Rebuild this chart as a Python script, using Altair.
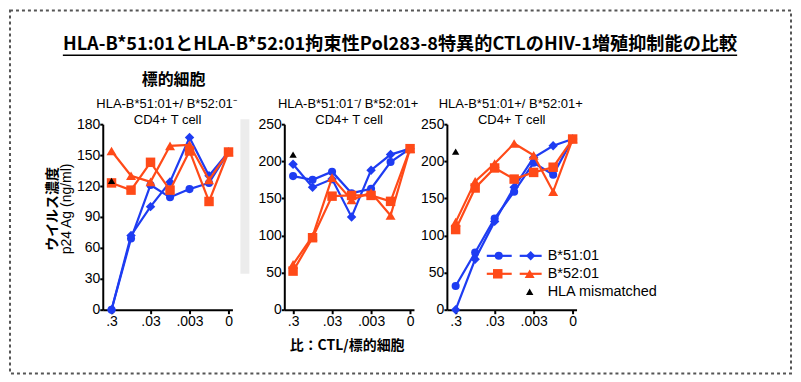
import altair as alt
import pandas as pd

# ---------------- data ----------------
ratio_labels = [".3", ".1", ".03", ".01", ".003", ".001", "0"]
labeled_positions = [0, 2, 4, 6]

series_names = ["B*51:01 (circle)", "B*51:01 (diamond)", "B*52:01 (square)", "B*52:01 (triangle)"]

# panel 1: HLA-B*51:01+/B*52:01- target cells
p1_b51_circle = [0, 69, 121, 109, 117, 123, 153]
p1_b51_diamond = [0, 72, 100, 124, 167, 130, 153]
p1_b52_square = [123, 116, 143, 116, 154, 105, 153]
p1_b52_triangle = [154, 130, 124, 159, 160, 126, 153]
p1_mismatch = 125
p1_yticks = [0, 30, 60, 90, 120, 150, 180]

# panel 2: HLA-B*51:01-/B*52:01+ target cells
p2_b51_circle = [180, 175, 186, 157, 163, 199, 217]
p2_b51_diamond = [196, 165, 176, 125, 188, 209, 217]
p2_b52_square = [52, 97, 153, 154, 154, 146, 217]
p2_b52_triangle = [61, 99, 178, 148, 158, 127, 217]
p2_mismatch = 209
p2_yticks = [0, 50, 100, 150, 200, 250]

# panel 3: HLA-B*51:01+/B*52:01+ target cells
p3_b51_circle = [32, 77, 123, 159, 198, 182, 230]
p3_b51_diamond = [0, 68, 119, 165, 205, 221, 230]
p3_b52_square = [108, 164, 191, 176, 185, 192, 230]
p3_b52_triangle = [118, 173, 197, 224, 208, 159, 230]
p3_mismatch = 213
p3_yticks = [0, 50, 100, 150, 200, 250]

title_text = "HLA-B*51:01とHLA-B*52:01拘束性Pol283-8特異的CTLのHIV-1増殖抑制能の比較"
target_label = "標的細胞"
subtitles = ["HLA-B*51:01+/ B*52:01⁻", "HLA-B*51:01⁻/ B*52:01+", "HLA-B*51:01+/ B*52:01+"]
subtitle2 = "CD4+ T cell"
ytitle1 = "ウイルス濃度"
ytitle2 = "p24 Ag  (ng/ml)"
xtitle = "比：CTL/標的細胞"
legend_labels = ["B*51:01", "B*52:01", "HLA mismatched"]

# ---------------- styles ----------------
FONT = "Liberation Sans"
JP = "Noto Sans CJK JP"
BLUE = "#1e3cf2"
RED = "#ff4a18"
colors = [BLUE, BLUE, RED, RED]
shapes = ["circle", "diamond", "square", "triangle-up"]
sizes = [65, 90, 90, 100]
W, H = 130, 186

one = pd.DataFrame({"k": [0]})


def deco_text(text, x, y, size=13, font=FONT, weight="normal", angle=0, align="center"):
    return alt.Chart(one).mark_text(
        text=text, font=font, fontSize=size, fontWeight=weight, angle=angle,
        align=align, baseline="middle", color="black"
    ).encode(x=alt.value(x), y=alt.value(y))


label_expr = " : ".join(
    f"datum.value == {p} ? '{ratio_labels[p]}'" for p in labeled_positions
) + " : ''"


def panel(series_vals, mismatch, yticks, subtitle, extra):
    xs = alt.Scale(domain=[-0.45, 6.2], nice=False, zero=False)
    ys = alt.Scale(domain=[yticks[0], yticks[-1]], nice=False)
    xaxis = alt.Axis(values=labeled_positions, labelExpr=label_expr, title=None, grid=False,
                     domainColor="black", domainWidth=2, tickColor="black", tickWidth=2,
                     tickSize=4, labelFont=FONT, labelFontSize=14, labelColor="black",
                     labelPadding=1, labelFlush=False, labelOverlap=False)
    yaxis = alt.Axis(values=yticks, title=None, grid=False,
                     domainColor="black", domainWidth=2, tickColor="black", tickWidth=2,
                     tickSize=3, labelFont=FONT, labelFontSize=14, labelColor="black",
                     labelPadding=0, labelFlush=False, labelOverlap=False)
    layers = list(extra)
    for name, vals, c, s, sz in zip(series_names, series_vals, colors, shapes, sizes):
        df = pd.DataFrame({"x": list(range(len(ratio_labels))), "v": vals,
                           "ratio": ratio_labels, "series": name})
        base = alt.Chart(df).encode(
            x=alt.X("x:Q", scale=xs, axis=xaxis),
            y=alt.Y("v:Q", scale=ys, axis=yaxis),
        )
        layers.append(base.mark_line(color=c, strokeWidth=2.2))
        layers.append(base.mark_point(shape=s, filled=True, size=sz, color=c, opacity=1))
    mdf = pd.DataFrame({"x": [0], "v": [mismatch]})
    layers.append(alt.Chart(mdf).mark_point(shape="triangle-up", filled=True, size=55,
                                             color="black", opacity=1).encode(
        x=alt.X("x:Q", scale=xs, axis=xaxis), y=alt.Y("v:Q", scale=ys, axis=yaxis)))
    layers.append(deco_text(subtitle, 64, -20, size=13))
    layers.append(deco_text(subtitle2, 65, -4, size=13))
    return alt.layer(*layers).properties(width=W, height=H)


# decorations attached to panel 1 (coordinates relative to its plot area)
border = alt.Chart(one).mark_rect(fillOpacity=0, stroke="#555555", strokeWidth=2,
                                  strokeDash=[3, 3]).encode(
    x=alt.value(-93), x2=alt.value(690), y=alt.value(-114), y2=alt.value(250))
gray_block = alt.Chart(one).mark_rect(color="#ececec").encode(
    x=alt.value(138), x2=alt.value(147), y=alt.value(-5), y2=alt.value(150))
underline = alt.Chart(one).mark_rule(color="black", strokeWidth=1.5).encode(
    x=alt.value(-40), x2=alt.value(636), y=alt.value(-69))
p1_extra = [
    border, gray_block, underline,
    deco_text(title_text, 298, -79, size=18.2, font=JP, weight="bold"),
    deco_text(target_label, 71, -44, size=16, font=JP, weight="bold"),
    deco_text(ytitle1, -50, 85, size=14, font=JP, weight="bold", angle=270),
    deco_text(ytitle2, -36, 85, size=14, angle=270),
    deco_text(xtitle, 245, 222, size=14, font=JP, weight="bold"),
]


def legend_item(x1, x2, xm, y, color, shape, size):
    return [
        alt.Chart(one).mark_rule(color=color, strokeWidth=2.2).encode(
            x=alt.value(x1), x2=alt.value(x2), y=alt.value(y)),
        alt.Chart(one).mark_point(shape=shape, filled=True, size=size, color=color,
                                  opacity=1).encode(x=alt.value(xm), y=alt.value(y)),
    ]


p3_extra = (
    legend_item(40, 65, 52, 132, BLUE, "circle", 65)
    + legend_item(73, 95, 84, 132, BLUE, "diamond", 90)
    + legend_item(40, 65, 51, 150, RED, "square", 90)
    + legend_item(73, 95, 83, 150, RED, "triangle-up", 100)
    + [alt.Chart(one).mark_point(shape="triangle-up", filled=True, size=55, color="black",
                                 opacity=1).encode(x=alt.value(83), y=alt.value(168))]
    + [deco_text(legend_labels[0], 101, 132, size=14.5, align="left"),
       deco_text(legend_labels[1], 101, 150, size=14.5, align="left"),
       deco_text(legend_labels[2], 101, 168, size=14.5, align="left")]
)

c1 = panel([p1_b51_circle, p1_b51_diamond, p1_b52_square, p1_b52_triangle],
           p1_mismatch, p1_yticks, subtitles[0], p1_extra)
c2 = panel([p2_b51_circle, p2_b51_diamond, p2_b52_square, p2_b52_triangle],
           p2_mismatch, p2_yticks, subtitles[1], [])
c3 = panel([p3_b51_circle, p3_b51_diamond, p3_b52_square, p3_b52_triangle],
           p3_mismatch, p3_yticks, subtitles[2], p3_extra)

inner = alt.hconcat(c2, c3, spacing=33, bounds="flush")
chart = alt.hconcat(c1, inner, spacing=52, bounds="flush").properties(
    padding=0, background="white"
).configure_view(stroke="transparent")

chart.save("out.html", embed_options={"renderer": "svg", "actions": False})
